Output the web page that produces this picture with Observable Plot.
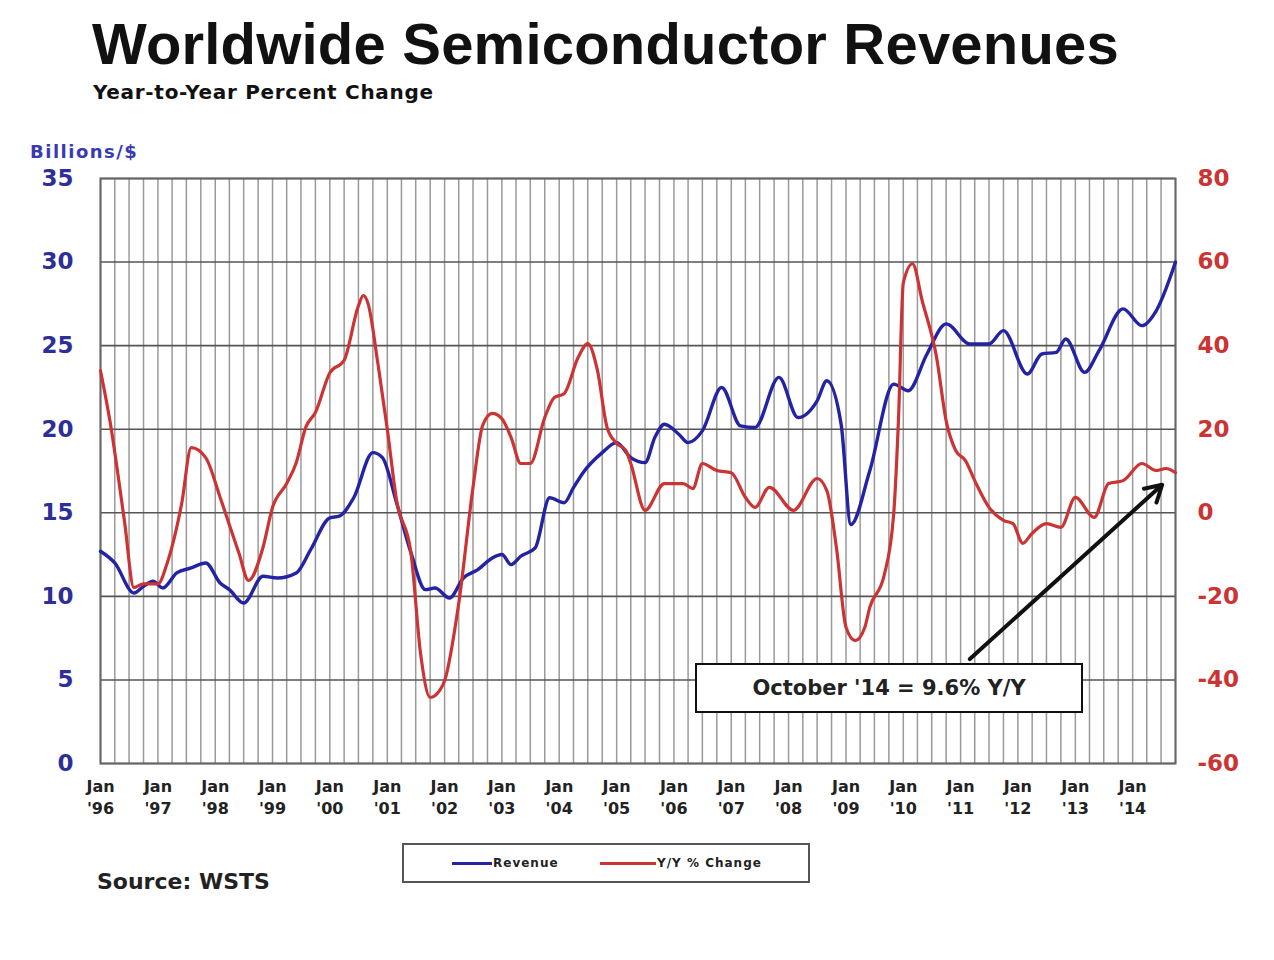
<!DOCTYPE html>
<html>
<head>
<meta charset="utf-8">
<script src="https://cdn.jsdelivr.net/npm/d3@7"></script>
<script src="https://cdn.jsdelivr.net/npm/@observablehq/plot@0.6"></script>
<style>
  html, body { margin: 0; padding: 0; background: #fff; }
  #wrap { position: relative; width: 1274px; height: 960px; overflow: hidden; background: #fff; }
  .abs { position: absolute; white-space: nowrap; line-height: 1; }
  #title { left: 92px; top: 10px; font: bold 58px "Liberation Sans", Arial, sans-serif; color: #111; letter-spacing: 0.2px; }
  #subtitle { left: 93px; top: 80px; font: bold 20px "DejaVu Sans", sans-serif; color: #111; letter-spacing: 0.7px; }
  #units { left: 30px; top: 141px; font: bold 18px "DejaVu Sans", sans-serif; color: #3a3ab0; letter-spacing: 1.5px; }
  #chart { position: absolute; left: 0; top: 160px; }
  #source { left: 97px; top: 869px; font: bold 22px "DejaVu Sans", sans-serif; color: #222; }
  #legend { position: absolute; left: 402px; top: 843px; width: 408px; height: 40px; box-sizing: border-box; border: 2px solid #555; background: #fff; }
  .sw { position: absolute; top: 17px; height: 3px; }
  .lt { position: absolute; top: 12px; font: bold 12px "DejaVu Sans", sans-serif; color: #222; letter-spacing: 1px; line-height: 1; }
  #note { position: absolute; left: 695px; top: 663px; width: 388px; height: 50px; box-sizing: border-box; border: 2px solid #111; background: #fff; font: bold 21px "DejaVu Sans", sans-serif; color: #222; display: flex; align-items: center; justify-content: center; }
</style>
</head>
<body>
<div id="wrap">
  <div id="title" class="abs">Worldwide Semiconductor Revenues</div>
  <div id="subtitle" class="abs">Year-to-Year Percent Change</div>
  <div id="units" class="abs">Billions/$</div>
  <div id="chart"></div>
  <div id="source" class="abs">Source: WSTS</div>
  <div id="legend">
    <div class="sw" style="left:48px;width:40px;background:#2323a3"></div>
    <div class="lt" style="left:89px">Revenue</div>
    <div class="sw" style="left:196px;width:56px;background:#cc3333"></div>
    <div class="lt" style="left:253px">Y/Y % Change</div>
  </div>
  <div id="note"></div>
</div>
<script>
// ---- Data ----
const revenueDates = ["1996-01","1996-04","1996-08","1996-10","1996-12","1997-02","1997-05","1997-08","1997-11","1998-02","1998-04","1998-07","1998-11","1999-02","1999-06","1999-09","2000-01","2000-03","2000-06","2000-10","2000-12","2001-03","2001-06","2001-09","2001-11","2002-02","2002-05","2002-08","2002-11","2003-01","2003-03","2003-05","2003-08","2003-11","2004-02","2004-04","2004-06","2004-10","2005-01","2005-04","2005-07","2005-09","2005-11","2006-02","2006-04","2006-07","2006-11","2007-03","2007-06","2007-11","2008-03","2008-07","2008-09","2008-12","2009-02","2009-06","2009-11","2010-02","2010-06","2010-10","2011-03","2011-07","2011-10","2012-03","2012-06","2012-09","2012-11","2013-03","2013-06","2013-11","2014-03","2014-06","2014-10"];
const revenueValues = [12.7,12.0,10.2,10.6,10.9,10.5,11.4,11.7,12.0,10.8,10.4,9.6,11.2,11.1,11.4,12.8,14.7,14.8,15.9,18.6,18.3,15.6,12.6,10.4,10.5,9.9,11.1,11.6,12.3,12.5,11.9,12.4,12.9,15.9,15.6,16.5,17.4,18.6,19.2,18.3,18.0,19.5,20.3,19.7,19.2,19.9,22.5,20.2,20.1,23.1,20.7,21.7,22.9,20.3,14.3,17.5,22.7,22.3,24.5,26.3,25.1,25.1,25.9,23.3,24.5,24.6,25.4,23.4,24.7,27.2,26.2,27.1,30.0];

const yoyDates = ["1996-01","1996-03","1996-06","1996-08","1996-10","1997-01","1997-03","1997-06","1997-08","1997-11","1998-02","1998-03","1998-06","1998-08","1998-11","1999-01","1999-04","1999-06","1999-08","1999-10","2000-01","2000-04","2000-07","2000-08","2000-09","2000-11","2001-01","2001-03","2001-06","2001-08","2001-10","2001-12","2002-01","2002-04","2002-07","2002-09","2002-11","2003-01","2003-03","2003-05","2003-07","2003-10","2003-12","2004-02","2004-05","2004-07","2004-09","2004-11","2005-01","2005-03","2005-04","2005-07","2005-11","2006-03","2006-05","2006-07","2006-10","2007-01","2007-04","2007-06","2007-09","2008-02","2008-07","2008-09","2008-11","2009-01","2009-03","2009-05","2009-06","2009-09","2009-11","2009-12","2010-01","2010-03","2010-05","2010-08","2010-10","2010-12","2011-02","2011-04","2011-07","2011-10","2011-12","2012-02","2012-04","2012-07","2012-10","2013-01","2013-05","2013-08","2013-11","2014-03","2014-06","2014-08","2014-10"];
const yoyValues = [34,22,-1.8,-17.9,-17,-17,-12,2.2,15.6,13.2,3.7,0.6,-9.7,-16.2,-8.3,1.3,7.0,12.0,20.5,24.0,33.5,36.5,49.5,52,50,36,20,3.0,-9.7,-33.7,-44.2,-42.5,-40.2,-21.7,6.1,21,23.8,22.5,18,11.8,11.8,22.8,27.6,28.5,37.2,40.5,34,20.4,16.6,14.9,11.8,0.6,7.0,7.0,5.8,11.8,10.1,9.6,3.7,1.3,6.1,0.6,8.2,5.3,-8.3,-27.4,-30.6,-27.4,-22.7,-15,-0.2,22,55,59.6,50.8,37.2,22,14.9,12.5,7.7,1.3,-1.8,-2.6,-7.3,-4.9,-2.6,-3.5,3.7,-1.1,7.0,7.7,11.8,10.1,10.6,9.6];

const yearLabels = ["'96","'97","'98","'99","'00","'01","'02","'03","'04","'05","'06","'07","'08","'09","'10","'11","'12","'13","'14"];
const leftTicks = [0,5,10,15,20,25,30,35];
const rightTicks = [-60,-40,-20,0,20,40,60,80];
const seriesNames = ["Revenue","Y/Y % Change"];
const annotation = { text: "October '14 = 9.6% Y/Y", fromDate: "2011-03", fromPct: -35 };

// ---- Build ----
const parse = d3.utcParse("%Y-%m");
const toLeft = p => (p + 60) / 4;   // right axis (-60..80 %) onto left axis (0..35)
const revenue = revenueDates.map((d, i) => ({date: parse(d), value: revenueValues[i]}));
const yoy = yoyDates.map((d, i) => ({date: parse(d), value: yoyValues[i]}));
const yearTicks = yearLabels.map((_, i) => new Date(Date.UTC(1996 + i, 0, 1)));
const x0 = revenue[0].date, x1 = revenue[revenue.length - 1].date;
const quarterTicks = d3.utcMonth.every(3).range(x0, d3.utcMonth.offset(x1, 1));
const last = yoy[yoy.length - 1];
document.getElementById("note").textContent = annotation.text;

const font = '"DejaVu Sans", sans-serif';
const chart = Plot.plot({
  width: 1274,
  height: 668,
  marginLeft: 100,
  marginRight: 99,
  marginTop: 18,
  marginBottom: 65,
  x: {type: "utc", domain: [x0, x1]},
  y: {domain: [0, 35]},
  style: {fontFamily: font, background: "transparent", overflow: "visible"},
  marks: [
    Plot.gridX(quarterTicks, {stroke: "#9a9a9a", strokeOpacity: 1, strokeWidth: 1.5}),
    Plot.gridY(leftTicks, {stroke: "#555", strokeOpacity: 1, strokeWidth: 1.6}),
    Plot.frame({stroke: "#666", strokeWidth: 2}),
    Plot.axisY(leftTicks, {anchor: "left", tickSize: 0, tickPadding: 27, label: null, color: "#2e2e99", fontSize: 23, fontWeight: "bold"}),
    Plot.axisY(rightTicks.map(toLeft), {anchor: "right", tickSize: 0, tickPadding: 22, label: null, tickFormat: v => String(Math.round(v * 4 - 60)), color: "#cc3333", fontSize: 23, fontWeight: "bold"}),
    Plot.axisX(yearTicks, {tickSize: 0, tickPadding: 17, label: null, tickFormat: () => "Jan", fontSize: 16, fontWeight: "bold", color: "#222"}),
    Plot.axisX(yearTicks, {tickSize: 0, tickPadding: 39, label: null, tickFormat: (d, i) => yearLabels[i], fontSize: 16, fontWeight: "bold", color: "#222"}),
    Plot.line(revenue, {x: "date", y: "value", stroke: "#2323a3", strokeWidth: 3.4, strokeLinejoin: "round", curve: "monotone-x"}),
    Plot.line(yoy, {x: "date", y: d => toLeft(d.value), stroke: "#cc3333", strokeWidth: 3.2, strokeLinejoin: "round", curve: "monotone-x"}),
    Plot.arrow([annotation], {
      x1: d => parse(d.fromDate), y1: d => toLeft(d.fromPct),
      x2: () => last.date, y2: () => toLeft(last.value),
      stroke: "#111", strokeWidth: 4, headLength: 7, insetEnd: 18
    })
  ]
});
document.getElementById("chart").appendChild(chart);
</script>
</body>
</html>
